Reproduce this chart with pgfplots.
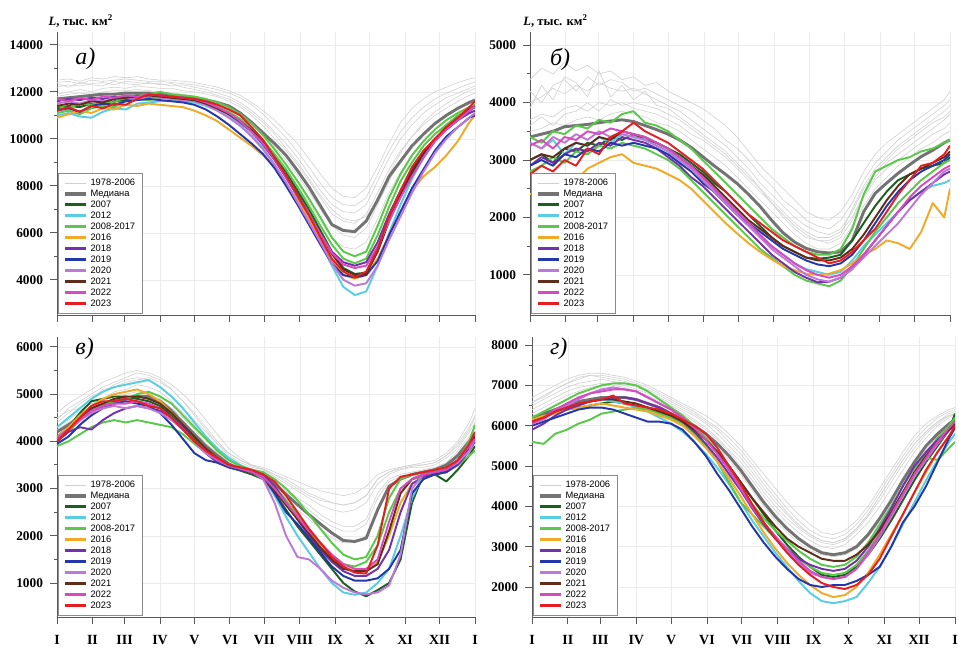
\documentclass[border=0pt]{standalone}
\usepackage{fontspec}
\setmainfont{Liberation Serif}
\newfontfamily\legfont{Liberation Sans}
\usepackage{pgfplots}
\usepackage{pgfplotstable}
\pgfplotsset{compat=1.18}

\definecolor{cGray}{RGB}{208,208,208}
\definecolor{cMed}{RGB}{115,115,115}
\definecolor{c07}{RGB}{25,95,30}
\definecolor{c12}{RGB}{90,205,225}
\definecolor{c0817}{RGB}{90,200,75}
\definecolor{c16}{RGB}{240,170,40}
\definecolor{c18}{RGB}{115,50,170}
\definecolor{c19}{RGB}{35,55,170}
\definecolor{c20}{RGB}{190,120,215}
\definecolor{c21}{RGB}{95,45,25}
\definecolor{c22}{RGB}{215,75,190}
\definecolor{c23}{RGB}{230,30,35}

\pgfplotstableread{
d G1 G2 G3 G4 G5 M Y07 Y12 E1 E2 Y16 Y18 Y19 Y20 Y21 Y22 Y23
0 12500 12200 11900 11700 12350 11700 11300 11000 11400 11100 10900 11600 11200 11500 11400 11700 11200
10 12550 12300 12000 11650 12200 11750 11400 11100 11300 11200 11050 11700 11300 11600 11500 11600 11350
20 12450 12250 12100 11800 12400 11800 11350 10950 11500 11050 11200 11650 11150 11500 11450 11750 11150
30 12600 12350 12000 11750 12300 11850 11500 10900 11450 11300 11100 11750 11400 11650 11600 11650 11400
40 12550 12400 12150 11850 12250 11900 11450 11150 11600 11400 11300 11700 11500 11600 11550 11800 11300
50 12650 12300 12200 11800 12450 11900 11600 11300 11550 11350 11250 11800 11450 11700 11700 11750 11500
60 12600 12450 12150 11900 12350 11950 11650 11250 11800 11600 11450 11750 11600 11750 11750 11850 11450
70 12650 12400 12250 11850 12300 11950 11700 11500 11850 11700 11400 11850 11650 11700 11800 11800 11700
80 12550 12350 12200 11900 12400 11950 11750 11550 11900 11650 11500 11800 11700 11800 11850 11900 11900
90 12500 12350 12150 11850 12300 11900 11800 11600 12000 11750 11450 11850 11650 11750 11800 11850 11850
100 12500 12250 12150 11750 12350 11850 11750 11650 11900 11700 11400 11800 11600 11700 11750 11800 11800
110 12450 12300 12050 11700 12200 11800 11700 11600 11850 11650 11350 11700 11550 11650 11700 11750 11750
120 12400 12200 12000 11600 12100 11750 11650 11550 11800 11600 11200 11650 11450 11600 11650 11700 11700
130 12300 12100 11900 11500 12000 11650 11500 11400 11700 11500 11000 11500 11250 11450 11500 11550 11600
140 12200 11950 11800 11350 11850 11550 11300 11200 11550 11350 10750 11300 10950 11200 11300 11350 11450
150 12050 11800 11600 11150 11700 11400 11100 10950 11350 11150 10400 11050 10600 10900 11050 11100 11250
160 11850 11550 11350 10850 11450 11100 10800 10600 11050 10850 10050 10700 10200 10550 10750 10750 11000
170 11550 11200 11000 10400 11100 10700 10400 10150 10650 10450 9700 10300 9800 10100 10350 10300 10500
180 11200 10800 10550 9900 10700 10250 9900 9600 10150 9950 9300 9750 9350 9550 9850 9800 9950
190 10800 10300 10000 9300 10200 9800 9300 8900 9550 9350 8800 9100 8750 8900 9200 9150 9200
200 10300 9800 9500 8700 9600 9300 8600 8100 8900 8700 8100 8350 8000 8150 8450 8400 8450
210 9800 9200 8900 8000 9000 8650 7800 7300 8200 7950 7400 7550 7200 7300 7650 7600 7600
220 9150 8500 8200 7300 8300 7950 7000 6500 7450 7150 6600 6750 6350 6450 6800 6800 6750
230 8500 7800 7500 6500 7600 7150 6100 5600 6650 6300 5700 5950 5500 5600 5950 5950 5800
240 7900 7200 6800 5800 7000 6350 5200 4600 5800 5500 4800 5200 4700 4700 5100 5150 4900
250 7550 6900 6500 5400 6600 6100 4500 3700 5200 4900 4200 4750 4200 4000 4450 4650 4350
260 7500 6850 6400 5300 6500 6050 4250 3350 5000 4700 4050 4600 4100 3750 4200 4500 4100
270 7900 7200 6800 5600 6700 6500 4300 3500 5200 4900 4200 4750 4200 3850 4250 4600 4350
280 8800 8200 7700 6600 7400 7400 5300 4600 6300 5900 4900 5600 4800 4600 5200 5400 5300
290 9800 9200 8700 7700 8500 8400 6600 6000 7500 7100 5900 6800 5900 5700 6500 6500 6700
300 10700 10000 9500 8600 9400 9050 7600 7200 8500 8200 6900 7800 6900 6700 7600 7500 7800
310 11300 10600 10100 9300 10100 9700 8500 8300 9300 9000 7800 8700 7900 7700 8600 8400 8800
320 11700 11100 10600 9900 10700 10200 9300 9200 9900 9700 8400 9400 8700 8600 9400 9200 9500
330 12000 11450 11000 10400 11150 10650 9900 9900 10400 10200 8800 10000 9500 9400 10000 9900 10000
340 12200 11750 11300 10800 11500 11000 10400 10400 10800 10600 9300 10400 10100 10000 10500 10400 10500
350 12400 11950 11600 11100 11800 11300 10800 10800 11100 11000 9900 10800 10500 10500 10900 10800 10900
360 12550 12150 11850 11400 12050 11550 11200 11100 11350 11250 10700 11100 10900 10900 11250 11200 11350
365 12600 12250 11950 11500 12150 11650 11350 11200 11450 11350 11000 11200 11000 11100 11400 11400 11600
}\tA

\pgfplotstableread{
d H1 H2
0 12400 11800
10 12450 11900
20 12350 11950
30 12500 11900
40 12450 12000
50 12500 12050
60 12550 12050
70 12500 12100
80 12450 12050
90 12450 12000
100 12400 11950
110 12350 11900
120 12300 11800
130 12200 11700
140 12100 11550
150 11950 11350
160 11750 11100
170 11450 10700
180 11050 10200
190 10550 9650
200 10050 9100
210 9450 8450
220 8800 7750
230 8100 7000
240 7500 6300
250 7200 5900
260 7150 5800
270 7500 6200
280 8500 7200
290 9500 8200
300 10300 9100
310 10900 9700
320 11350 10250
330 11700 10700
340 11950 11050
350 12150 11350
360 12350 11600
365 12400 11700
}\hA

\pgfplotstableread{
d G1 G2 G3 G4 G5 M Y07 Y12 E1 E2 Y16 Y18 Y19 Y20 Y21 Y22 Y23
0 4400 4000 3700 3500 4200 3400 3000 3300 3400 2800 2400 2900 2900 3300 3000 3250 2750
10 4600 4100 3800 3550 4000 3450 3100 3200 3300 2900 2550 3050 3000 3200 3100 3350 2900
20 4500 4250 3750 3650 4300 3500 2950 3350 3500 3050 2500 2950 2900 3400 3050 3200 2800
30 4700 4150 3900 3600 4400 3580 3200 3100 3450 2950 2700 3100 3100 3300 3200 3400 3000
40 4550 4300 3950 3700 4200 3600 3150 3300 3600 3150 2650 3200 3050 3450 3300 3350 2900
50 4650 4200 3850 3750 4450 3620 3300 3250 3550 3100 2850 3150 3200 3350 3250 3500 3200
60 4500 4350 4000 3700 4300 3650 3250 3400 3700 3250 2950 3300 3150 3500 3400 3450 3100
70 4550 4250 3950 3800 4400 3680 3400 3300 3650 3200 3050 3250 3300 3400 3350 3550 3400
80 4400 4200 4000 3850 4350 3700 3350 3450 3800 3300 3100 3400 3250 3450 3500 3500 3500
90 4450 4250 3900 3800 4200 3670 3450 3400 3850 3250 2950 3350 3300 3400 3450 3450 3650
100 4300 4150 3850 3750 4250 3600 3350 3350 3650 3200 2900 3300 3250 3350 3400 3400 3500
110 4350 4050 3800 3650 4150 3530 3300 3250 3600 3100 2850 3200 3200 3250 3300 3300 3400
120 4200 3950 3700 3600 4050 3450 3200 3150 3500 3000 2750 3050 3100 3150 3200 3200 3300
130 4100 3850 3600 3500 3950 3350 3100 3000 3350 2850 2650 2900 2950 3000 3050 3050 3150
140 4000 3700 3450 3350 3850 3220 2950 2850 3200 2650 2500 2700 2800 2850 2900 2900 3000
150 3900 3550 3350 3200 3700 3060 2800 2650 3000 2450 2300 2550 2600 2650 2750 2700 2850
160 3750 3400 3200 3050 3550 2900 2600 2450 2800 2250 2100 2350 2450 2450 2550 2500 2650
170 3600 3250 3050 2900 3350 2750 2450 2250 2600 2050 1900 2150 2250 2250 2350 2300 2450
180 3400 3050 2850 2700 3200 2590 2250 2050 2400 1850 1720 1950 2050 2050 2150 2100 2250
190 3150 2850 2650 2500 3000 2400 2050 1850 2200 1650 1550 1750 1900 1850 1950 1900 2050
200 2900 2600 2450 2300 2750 2190 1850 1650 2000 1450 1400 1550 1750 1650 1800 1700 1900
210 2700 2400 2250 2100 2550 1950 1650 1500 1800 1300 1270 1350 1600 1450 1650 1500 1750
220 2500 2200 2000 1900 2300 1730 1500 1350 1650 1150 1150 1200 1450 1300 1500 1350 1600
230 2300 2000 1800 1700 2150 1570 1400 1200 1500 1000 1080 1050 1350 1150 1400 1200 1500
240 2100 1850 1650 1550 1950 1460 1300 1100 1400 900 1020 950 1250 1000 1300 1080 1400
250 2000 1750 1600 1450 1850 1400 1280 1050 1350 850 1000 870 1180 920 1250 1000 1300
260 1950 1700 1550 1450 1800 1380 1300 1000 1350 800 1020 880 1150 880 1250 950 1200
270 2100 1800 1650 1550 1950 1400 1350 1050 1450 900 1080 950 1200 950 1300 1000 1250
280 2400 2100 1950 1850 2250 1600 1600 1250 1800 1150 1200 1100 1350 1100 1450 1150 1400
290 2800 2500 2350 2200 2650 2100 1900 1500 2400 1450 1350 1350 1600 1300 1700 1350 1600
300 3100 2800 2650 2500 2950 2420 2200 1700 2800 1750 1450 1600 1900 1500 2000 1600 1800
310 3300 3000 2850 2700 3150 2600 2450 1900 2900 2000 1600 1850 2200 1700 2300 1850 2100
320 3450 3200 3000 2900 3350 2770 2650 2100 3000 2250 1550 2100 2450 1900 2550 2100 2400
330 3600 3350 3150 3050 3500 2920 2750 2300 3050 2450 1450 2300 2650 2150 2750 2350 2650
340 3750 3500 3300 3200 3650 3060 2850 2450 3150 2650 1750 2450 2800 2400 2850 2550 2900
350 3900 3650 3450 3300 3800 3170 2900 2550 3200 2800 2250 2600 2900 2600 2950 2700 2950
360 4050 3750 3550 3450 3950 3300 2950 2600 3300 2950 2000 2750 3000 2800 3050 2850 3100
365 4200 3850 3650 3500 4050 3350 3050 2650 3350 3000 2500 2800 3100 2850 3150 2900 3250
}\tB

\pgfplotstableread{
d H1 H2
0 3900 3600
10 4300 3750
20 4050 3600
30 4450 3800
40 4350 3850
50 4100 4000
60 4550 3850
70 4100 4050
80 4300 3950
90 4050 4000
100 4200 3950
110 3950 3900
120 3900 3800
130 3750 3700
140 3600 3550
150 3450 3400
160 3300 3250
170 3150 3100
180 2950 2900
190 2750 2700
200 2500 2500
210 2300 2250
220 2100 2050
230 1900 1850
240 1750 1700
250 1650 1600
260 1650 1600
270 1750 1700
280 2000 2150
290 2400 2550
300 2700 2850
310 2950 3050
320 3100 3250
330 3250 3400
340 3400 3550
350 3550 3700
360 3700 3850
365 3800 3950
}\hB

\pgfplotstableread{
d G1 G2 G3 G4 G5 M Y07 Y12 E1 E2 Y16 Y18 Y19 Y20 Y21 Y22 Y23
0 4600 4400 4300 4100 4500 4200 4100 4300 4000 3900 4100 4000 3950 4100 4050 4050 4000
10 4800 4600 4450 4250 4650 4350 4300 4500 4200 4000 4300 4200 4100 4250 4250 4250 4250
20 4950 4800 4650 4400 4700 4500 4600 4700 4450 4150 4550 4300 4350 4450 4500 4450 4500
30 5100 4950 4800 4550 4900 4650 4850 4900 4650 4300 4750 4250 4550 4600 4700 4650 4750
40 5250 5050 4900 4700 5100 4750 4900 5050 4800 4400 4900 4450 4700 4700 4800 4750 4850
50 5350 5200 5050 4800 5150 4850 4950 5150 4850 4450 5000 4600 4800 4750 4900 4800 4850
60 5450 5300 5100 4850 5250 4900 4950 5200 4900 4400 5050 4700 4850 4700 4950 4800 4900
70 5500 5350 5200 4900 5300 4950 4900 5250 5000 4450 5100 4750 4800 4750 4950 4850 4850
80 5450 5300 5150 4850 5350 4950 4850 5300 5050 4400 5000 4700 4750 4700 4900 4800 4750
90 5350 5150 5050 4750 5250 4850 4750 5150 4950 4350 4850 4650 4600 4600 4800 4700 4700
100 5200 4950 4850 4550 5100 4650 4550 4950 4800 4300 4600 4500 4350 4450 4600 4500 4500
110 5000 4700 4600 4300 4850 4400 4300 4700 4550 4150 4350 4300 4050 4250 4350 4250 4250
120 4750 4450 4350 4050 4600 4150 4050 4400 4300 3950 4100 4000 3750 4000 4100 4000 4000
130 4450 4200 4050 3800 4300 3900 3800 4100 4050 3750 3850 3750 3600 3750 3850 3800 3800
140 4150 3950 3800 3600 4000 3700 3600 3850 3800 3600 3650 3550 3550 3600 3650 3600 3650
150 3850 3700 3600 3450 3750 3520 3450 3650 3600 3480 3500 3450 3450 3480 3500 3500 3500
160 3650 3550 3500 3380 3600 3420 3380 3500 3480 3420 3420 3400 3400 3420 3420 3420 3450
170 3500 3450 3400 3320 3500 3370 3300 3380 3400 3350 3350 3350 3350 3350 3350 3350 3400
180 3450 3400 3350 3250 3400 3300 3200 3250 3350 3280 3250 3300 3250 3200 3250 3250 3300
190 3350 3250 3200 3050 3300 3100 2900 2850 3200 3050 3000 3050 2900 2700 2950 3000 3150
200 3250 3100 3000 2800 3150 2880 2550 2400 3000 2750 2700 2700 2500 2000 2650 2700 2850
210 3150 2950 2800 2550 3000 2660 2200 2000 2750 2450 2400 2350 2250 1550 2350 2400 2500
220 3050 2800 2650 2350 2850 2450 1900 1650 2450 2150 2100 2000 1950 1500 2050 2100 2150
230 2950 2650 2450 2150 2750 2250 1600 1300 2150 1850 1800 1700 1650 1300 1750 1850 1850
240 2900 2550 2300 1950 2700 2060 1300 1000 1850 1600 1550 1450 1350 1050 1500 1600 1550
250 2850 2500 2200 1850 2650 1900 1000 800 1600 1400 1350 1250 1150 900 1300 1400 1350
260 2900 2550 2200 1850 2700 1880 820 750 1500 1350 1250 1150 1050 800 1250 1300 1220
270 3050 2700 2350 2000 2850 1950 720 800 1550 1450 1250 1150 1050 760 1250 1300 1200
280 3300 3100 2900 2600 3200 2550 850 1000 2000 1800 1450 1300 1100 800 1400 1500 1800
290 3400 3300 3200 3050 3350 3050 1000 1300 2800 2500 2000 1700 1300 950 2100 2300 3000
300 3450 3400 3300 3200 3450 3200 1500 2000 3200 3000 2700 2500 1700 1600 2900 3000 3250
310 3500 3450 3350 3250 3500 3300 2700 2800 3300 3200 3100 3100 2900 3000 3200 3200 3300
320 3550 3450 3400 3300 3500 3350 3300 3300 3350 3250 3250 3250 3200 3300 3300 3300 3350
330 3600 3500 3450 3350 3550 3400 3300 3350 3400 3300 3300 3300 3300 3350 3350 3350 3400
340 3750 3650 3550 3450 3700 3500 3150 3400 3450 3350 3350 3350 3350 3400 3400 3400 3450
350 4000 3850 3800 3650 3950 3700 3400 3600 3600 3500 3550 3500 3550 3550 3600 3600 3600
360 4400 4200 4100 3900 4300 4000 3700 3850 4000 3700 3850 3800 3850 3800 3900 3900 3950
365 4700 4400 4300 4050 4550 4150 3900 4000 4350 3800 4000 4000 4050 4050 4100 4050 4200
}\tC

\pgfplotstableread{
d H1 H2
0 4450 4250
10 4700 4400
20 4850 4550
30 5000 4700
40 5150 4850
50 5250 4950
60 5350 5000
70 5450 5050
80 5400 5000
90 5300 4900
100 5100 4700
110 4850 4500
120 4550 4250
130 4250 3950
140 3950 3750
150 3750 3550
160 3600 3450
170 3480 3380
180 3420 3320
190 3300 3150
200 3200 2950
210 3050 2750
220 2900 2550
230 2800 2350
240 2700 2200
250 2650 2100
260 2700 2100
270 2850 2250
280 3200 2800
290 3350 3150
300 3420 3250
310 3470 3300
320 3500 3350
330 3550 3400
340 3700 3500
350 3900 3750
360 4250 4050
365 4500 4200
}\hC

\pgfplotstableread{
d G1 G2 G3 G4 G5 M Y07 Y12 E1 E2 Y16 Y18 Y19 Y20 Y21 Y22 Y23
0 6700 6500 6300 6100 6600 6200 6150 6100 6200 5600 6150 5900 6000 6050 6100 6050 6100
10 6850 6650 6450 6250 6700 6300 6250 6200 6350 5550 6250 6050 6100 6150 6200 6200 6200
20 7000 6800 6600 6350 6900 6400 6350 6350 6500 5800 6300 6250 6200 6350 6350 6400 6350
30 7150 6950 6750 6450 7050 6500 6400 6450 6650 5900 6400 6400 6300 6500 6450 6550 6450
40 7250 7050 6850 6550 7150 6600 6450 6550 6800 6050 6450 6500 6400 6650 6550 6700 6550
50 7300 7100 6950 6600 7250 6650 6500 6600 6900 6150 6500 6600 6450 6800 6600 6800 6600
60 7300 7150 7000 6650 7250 6700 6550 6650 7000 6300 6550 6650 6450 6900 6650 6850 6650
70 7250 7100 7000 6650 7200 6700 6600 6600 7050 6350 6500 6700 6400 6950 6650 6900 6750
80 7200 7050 6950 6600 7150 6700 6550 6550 7050 6400 6450 6700 6300 6900 6600 6900 6550
90 7100 6950 6850 6550 7050 6650 6500 6450 7000 6450 6400 6650 6200 6850 6550 6850 6500
100 7000 6850 6750 6450 6950 6550 6450 6350 6850 6400 6350 6550 6100 6700 6450 6700 6450
110 6850 6700 6600 6350 6800 6450 6350 6200 6650 6300 6250 6450 6100 6550 6350 6550 6400
120 6700 6550 6450 6200 6650 6300 6250 6050 6450 6200 6150 6300 6050 6400 6250 6400 6300
130 6550 6400 6300 6050 6500 6150 6100 5850 6250 6050 6000 6100 5900 6200 6100 6200 6150
140 6400 6250 6100 5900 6350 6000 5900 5600 6000 5800 5750 5850 5600 5950 5900 5950 6000
150 6250 6050 5900 5700 6150 5800 5650 5300 5700 5500 5450 5550 5250 5650 5650 5650 5800
160 6050 5800 5650 5450 5950 5550 5350 4950 5350 5100 5100 5200 4800 5300 5350 5300 5450
170 5800 5500 5350 5150 5700 5250 5000 4550 4950 4600 4700 4800 4400 4900 5000 4900 5000
180 5500 5200 5000 4800 5400 4900 4600 4100 4500 4100 4250 4400 3950 4450 4600 4450 4550
190 5150 4850 4650 4400 5050 4500 4200 3650 4050 3800 3800 3950 3500 4000 4200 4000 4050
200 4800 4450 4250 4000 4650 4100 3800 3250 3700 3500 3350 3550 3100 3600 3850 3600 3600
210 4450 4100 3900 3650 4300 3750 3400 2850 3400 3200 2950 3200 2750 3250 3500 3250 3200
220 4100 3800 3600 3350 3950 3450 3050 2500 3150 2950 2600 2950 2450 2900 3200 2950 2850
230 3800 3500 3350 3100 3650 3200 2750 2150 2900 2700 2300 2700 2200 2600 3000 2650 2550
240 3550 3300 3150 2900 3400 3000 2500 1850 2700 2500 2050 2550 2050 2350 2850 2400 2300
250 3350 3150 3000 2800 3250 2850 2300 1650 2550 2350 1850 2450 2000 2250 2700 2250 2100
260 3300 3100 2950 2750 3200 2800 2250 1600 2500 2300 1750 2400 2050 2200 2650 2200 2000
270 3400 3200 3050 2800 3300 2850 2300 1650 2550 2350 1800 2450 2050 2250 2650 2250 1950
280 3650 3450 3300 2950 3550 3000 2500 1750 2750 2550 2000 2650 2150 2450 2800 2450 2050
290 4000 3800 3600 3250 3900 3300 2800 2100 3100 2900 2350 3000 2300 2800 3050 2850 2300
300 4450 4250 4000 3600 4350 3700 3200 2500 3550 3350 2800 3450 2500 3250 3400 3300 2700
310 4900 4700 4450 4050 4800 4150 3650 3000 4000 3850 3300 3950 3000 3750 3850 3800 3250
320 5350 5150 4900 4550 5250 4650 4150 3550 4500 4350 3800 4500 3600 4250 4350 4300 3800
330 5750 5550 5350 5000 5650 5100 4650 4100 4950 4800 4350 5000 4000 4750 4850 4800 4350
340 6050 5850 5700 5400 5950 5500 5100 4650 5300 5200 4850 5350 4500 5150 5250 5200 4900
350 6250 6100 6000 5750 6200 5800 5500 5150 5700 5150 5350 5650 5100 5550 5600 5600 5350
360 6400 6250 6200 6000 6350 6050 5900 5600 6000 5450 5750 5900 5700 5900 5900 5950 5750
365 6450 6300 6300 6100 6400 6150 6300 5800 6200 5600 5950 6000 5950 6050 6050 6100 6000
}\tD

\pgfplotstableread{
d H1 H2
0 6550 6400
10 6750 6550
20 6900 6700
30 7050 6850
40 7200 6950
50 7250 7000
60 7200 7050
70 7150 7050
80 7100 7000
90 7000 6900
100 6900 6800
110 6750 6650
120 6600 6500
130 6450 6350
140 6300 6150
150 6100 5950
160 5900 5700
170 5600 5400
180 5300 5100
190 4950 4750
200 4550 4350
210 4200 4000
220 3850 3700
230 3550 3450
240 3300 3250
250 3150 3100
260 3100 3050
270 3200 3150
280 3450 3400
290 3800 3750
300 4250 4150
310 4700 4600
320 5150 5050
330 5550 5450
340 5850 5800
350 6100 6050
360 6300 6250
365 6350 6300
}\hD

\pgfplotsset{
  gL/.style={color=cGray, line width=0.45pt, legend image post style={line width=0.5pt}},
  cl/.style={line width=1.45pt, line join=round, legend image post style={line width=2.3pt}},
  common/.style={
    scale only axis, xmin=0, xmax=365,
    scaled y ticks=false,
    xtick={0,31,59,90,120,151,181,212,243,273,304,334,365},
    axis x line*=bottom, axis y line*=left,
    tick align=outside, major tick length=5pt, minor tick length=2.5pt,
    minor y tick num=1,
    grid=major, major grid style={gray!16, line width=0.4pt},
    axis line style={black!65, line width=0.7pt},
    every tick/.style={black!65, line width=0.7pt},
    /pgf/number format/assume math mode=true,
    /pgf/number format/1000 sep={},
    yticklabel style={font=\bfseries\fontsize{10}{11}\selectfont, xshift=-2pt},
    xticklabel style={font=\bfseries\fontsize{10.5}{11}\selectfont, yshift=-5pt},
    legend cell align=left,
    legend image code/.code={\draw[##1] (0pt,0pt) -- (16pt,0pt);},
    legend style={at={(0.003,0.006)}, anchor=south west, draw=black!45, fill=white,
      font=\legfont\fontsize{7}{8}\selectfont, inner xsep=3.5pt, inner ysep=4pt,
      row sep=1.3pt,
      nodes={inner ysep=0.6pt, inner xsep=1.9pt, text height=5.2pt, text depth=0.5pt}},
  }
}

\newcommand{\allplots}[2]{%
  \addplot[gL] table[x=d,y=G1]{#1}; \addlegendentry{1978-2006}
  \addplot[gL,forget plot] table[x=d,y=G2]{#1};
  \addplot[gL,forget plot] table[x=d,y=G3]{#1};
  \addplot[gL,forget plot] table[x=d,y=G4]{#1};
  \addplot[gL,forget plot] table[x=d,y=G5]{#1};
  \addplot[gL,forget plot] table[x=d,y=H1]{#2};
  \addplot[gL,forget plot] table[x=d,y=H2]{#2};
  \addplot[cMed, line width=2.2pt, line join=round, legend image post style={line width=2.6pt}] table[x=d,y=M]{#1}; \addlegendentry{Медиана}
  \addplot[c07, cl] table[x=d,y=Y07]{#1}; \addlegendentry{2007}
  \addplot[c12, cl] table[x=d,y=Y12]{#1}; \addlegendentry{2012}
  \addplot[c0817, cl] table[x=d,y=E1]{#1}; \addlegendentry{2008-2017}
  \addplot[c0817, cl, forget plot] table[x=d,y=E2]{#1};
  \addplot[c16, cl] table[x=d,y=Y16]{#1}; \addlegendentry{2016}
  \addplot[c18, cl] table[x=d,y=Y18]{#1}; \addlegendentry{2018}
  \addplot[c19, cl] table[x=d,y=Y19]{#1}; \addlegendentry{2019}
  \addplot[c20, cl] table[x=d,y=Y20]{#1}; \addlegendentry{2020}
  \addplot[c21, cl] table[x=d,y=Y21]{#1}; \addlegendentry{2021}
  \addplot[c22, cl] table[x=d,y=Y22]{#1}; \addlegendentry{2022}
  \addplot[c23, cl] table[x=d,y=Y23]{#1}; \addlegendentry{2023}
}

\begin{document}
\begin{tikzpicture}
\useasboundingbox (0,0) rectangle (719.25pt,485.25pt);

% panel a
\begin{axis}[common, at={(42.75pt,249pt)}, anchor=south west,
  width=313.5pt, height=212.25pt, ymin=2500, ymax=14550,
  ytick={4000,6000,8000,10000,12000,14000}, xticklabels={}]
\allplots{\tA}{\hA}
\end{axis}

% panel b
\begin{axis}[common, at={(397.5pt,249pt)}, anchor=south west,
  width=315pt, height=212.25pt, ymin=300, ymax=5230,
  ytick={1000,2000,3000,4000,5000}, xticklabels={}]
\allplots{\tB}{\hB}
\end{axis}

% panel v
\begin{axis}[common, at={(42.75pt,22.5pt)}, anchor=south west,
  width=313.5pt, height=210pt, ymin=280, ymax=6210,
  ytick={1000,2000,3000,4000,5000,6000},
  xticklabels={I,II,III,IV,V,VI,VII,VIII,IX,X,XI,XII,I}]
\allplots{\tC}{\hC}
\end{axis}

% panel g
\begin{axis}[common, at={(399pt,22.5pt)}, anchor=south west,
  width=317.25pt, height=210pt, ymin=1256, ymax=8200,
  ytick={2000,3000,4000,5000,6000,7000,8000},
  xticklabels={I,II,III,IV,V,VI,VII,VIII,IX,X,XI,XII,I}]
\allplots{\tD}{\hD}
\end{axis}

\node[anchor=base west, font=\bfseries\fontsize{9.5}{10}\selectfont] at (33pt,466pt) {\textit{L}, тыс. км\textsuperscript{2}};
\node[anchor=base west, font=\bfseries\fontsize{9.5}{10}\selectfont] at (389pt,466pt) {\textit{L}, тыс. км\textsuperscript{2}};
\node[anchor=west, font=\itshape\fontsize{18}{20}\selectfont] at (53pt,441pt) {а)};
\node[anchor=west, font=\itshape\fontsize{18}{20}\selectfont] at (409pt,441pt) {б)};
\node[anchor=west, font=\itshape\fontsize{18}{20}\selectfont] at (53pt,224pt) {в)};
\node[anchor=west, font=\itshape\fontsize{18}{20}\selectfont] at (409pt,224pt) {г)};
\end{tikzpicture}
\end{document}
